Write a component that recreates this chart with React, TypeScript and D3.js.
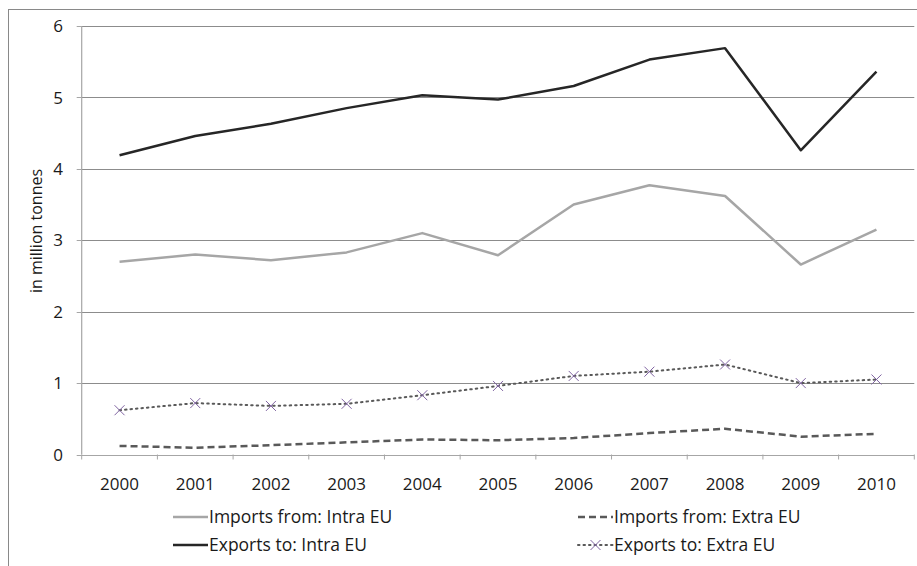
import React from "react";
import * as d3 from "d3";

const years = ["2000", "2001", "2002", "2003", "2004", "2005", "2006", "2007", "2008", "2009", "2010"];
const importsIntra = [2.70, 2.80, 2.72, 2.83, 3.10, 2.79, 3.50, 3.77, 3.62, 2.66, 3.15];
const importsExtra = [0.12, 0.095, 0.13, 0.17, 0.21, 0.20, 0.23, 0.30, 0.36, 0.25, 0.29];
const exportsIntra = [4.19, 4.46, 4.63, 4.85, 5.03, 4.97, 5.16, 5.53, 5.69, 4.26, 5.36];
const exportsExtra = [0.62, 0.72, 0.68, 0.71, 0.83, 0.96, 1.10, 1.16, 1.26, 1.00, 1.05];
const yTicks = [0, 1, 2, 3, 4, 5, 6];
const yLabel = "in million tonnes";

const W = 917;
const H = 566;
const FONT = "'Open Sans', sans-serif";

type Series = { name: string; values: number[]; color: string; width: number; dash?: string; marker?: boolean };

const series: Series[] = [
  { name: "Imports from: Intra EU", values: importsIntra, color: "#A6A6A6", width: 2.5 },
  { name: "Imports from: Extra EU", values: importsExtra, color: "#595959", width: 2.5, dash: "7,4" },
  { name: "Exports to: Intra EU", values: exportsIntra, color: "#262626", width: 2.5 },
  { name: "Exports to: Extra EU", values: exportsExtra, color: "#595959", width: 2, dash: "1.5,4", marker: true },
];

export default function App() {
  const left = 81.7;
  const right = 914.3;
  const top = 26;
  const bottom = 454.5;

  const x = d3.scaleBand<string>().domain(years).range([left, right]).paddingInner(0).paddingOuter(0);
  const y = d3.scaleLinear().domain([0, 6]).range([bottom, top]);
  const cx = (yr: string) => (x(yr) as number) + x.bandwidth() / 2;

  const line = (vals: number[]) =>
    d3.line<number>().x((_, i) => cx(years[i])).y((v) => y(v))(vals) as string;

  const markerColor = "#8064A2";
  const xMark = (px: number, py: number, k: string | number) => (
    <path
      key={k}
      d={`M${px - 5},${py - 5}L${px + 5},${py + 5}M${px - 5},${py + 5}L${px + 5},${py - 5}`}
      stroke={markerColor}
      strokeWidth={1}
      fill="none"
    />
  );

  const legendItems = [
    { s: series[0], lx: 173, ly: 517 },
    { s: series[1], lx: 578, ly: 517 },
    { s: series[2], lx: 173, ly: 545 },
    { s: series[3], lx: 578, ly: 545 },
  ];

  return (
    <svg width={W} height={H} style={{ position: "absolute", left: 0, top: 0, display: "block" }} fontFamily={FONT}>
      <rect x={0} y={0} width={W} height={H} fill="#fff" />
      <rect x={8.5} y={9.5} width={W + 10} height={H + 10} fill="none" stroke="#898989" strokeWidth={1} />
      {/* gridlines */}
      {yTicks.slice(1).map((t) => (
        <line key={t} x1={left} x2={right} y1={Math.round(y(t)) + 0.5} y2={Math.round(y(t)) + 0.5} stroke="#8C8C8C" strokeWidth={1} />
      ))}
      {/* y axis */}
      <line x1={left} x2={left} y1={top} y2={bottom} stroke="#A6A6A6" strokeWidth={1.2} />
      {yTicks.map((t) => (
        <g key={t}>
          <line x1={left - 5} x2={left} y1={Math.round(y(t)) + 0.5} y2={Math.round(y(t)) + 0.5} stroke="#A6A6A6" />
          <text x={63} y={y(t)} dy="0.36em" textAnchor="end" fontSize={17} fill="#1a1a1a">
            {t}
          </text>
        </g>
      ))}
      {/* x axis */}
      <line x1={left} x2={right} y1={Math.round(bottom) + 0.5} y2={Math.round(bottom) + 0.5} stroke="#A6A6A6" strokeWidth={1.2} />
      {years.map((yr) => (
        <line key={"t" + yr} x1={x(yr) as number} x2={x(yr) as number} y1={bottom} y2={bottom + 5} stroke="#A6A6A6" />
      ))}
      <line x1={right} x2={right} y1={bottom} y2={bottom + 5} stroke="#A6A6A6" />
      {years.map((yr) => (
        <text key={"l" + yr} x={cx(yr)} y={490} textAnchor="middle" fontSize={17} fill="#1a1a1a">
          {yr}
        </text>
      ))}
      <text transform={`translate(42,231) rotate(-90)`} textAnchor="middle" fontSize={16} fill="#1a1a1a">
        {yLabel}
      </text>
      {/* series */}
      {series.map((s) => (
        <g key={s.name}>
          <path d={line(s.values)} fill="none" stroke={s.color} strokeWidth={s.width} strokeDasharray={s.dash} strokeLinecap={s.marker ? "round" : "butt"} strokeLinejoin="round" />
          {s.marker && s.values.map((v, i) => xMark(cx(years[i]), y(v), i))}
        </g>
      ))}
      {/* legend */}
      {legendItems.map(({ s, lx, ly }) => (
        <g key={"lg" + s.name}>
          <line x1={lx} x2={lx + 35} y1={ly} y2={ly} stroke={s.color} strokeWidth={s.width} strokeDasharray={s.dash} strokeLinecap={s.marker ? "round" : "butt"} />
          {s.marker && xMark(lx + 17.5, ly, "m")}
          <text x={lx + 36} y={ly} dy="0.36em" fontSize={17.5} fill="#1a1a1a">
            {s.name}
          </text>
        </g>
      ))}
    </svg>
  );
}
